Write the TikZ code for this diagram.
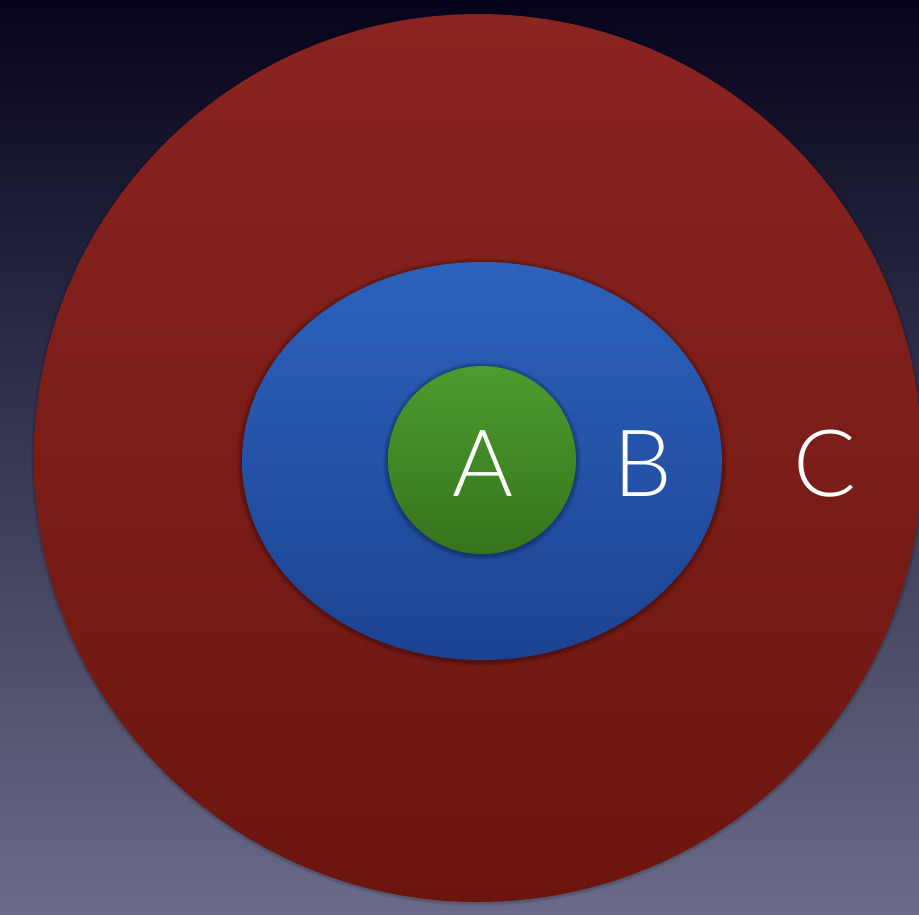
\documentclass[tikz,border=0pt]{standalone}
\usepackage{fontspec}
\newfontfamily\labelfont{Lato}[UprightFont={* Light}]
\definecolor{bgtop}{HTML}{06041C}
\definecolor{bgbot}{HTML}{6A6B89}
\definecolor{redtop}{HTML}{8A2420}
\definecolor{redbot}{HTML}{6C150F}
\definecolor{bluetop}{HTML}{2C62BC}
\definecolor{bluebot}{HTML}{1C4392}
\definecolor{greentop}{HTML}{4C9C2E}
\definecolor{greenbot}{HTML}{36731C}
\tikzset{
  lab/.style={text=white, font=\labelfont\fontsize{93}{93}\selectfont, inner sep=0pt, anchor=base},
  halo/.style={fill=black, opacity=0.06}
}
\begin{document}
\begin{tikzpicture}[x=1pt,y=-1pt]
\useasboundingbox (0,0) rectangle (919,914);
\shade[top color=bgtop, bottom color=bgbot] (0,0) rectangle (919,914);
\begin{scope}
\clip (0,0) rectangle (919,914);
\foreach \d in {1,2,3} {\fill[halo] (478,459) circle ({444+\d});}
\shade[top color=redtop, bottom color=redbot] (478,458) circle (444);
\end{scope}
\node (C) [coordinate] at (478,458) {};
\foreach \d in {1,2,3,4,5} {\fill[halo] (482,462) ellipse ({240+\d} and {199+\d});}
\shade[top color=bluetop, bottom color=bluebot] (482,461) ellipse (240 and 199);
\node (B) [coordinate] at (482,461) {};
\foreach \d in {1,2,3,4,5} {\fill[halo] (482,461) circle ({94+\d});}
\shade[top color=greentop, bottom color=greenbot] (482,460) circle (94);
\node (A) [coordinate] at (482,460) {};
\node[lab] (la) at (483,496) {A};
\node[lab] (lb) at (643,496) {B};
\node[lab] (lc) at (825,496) {C};
\end{tikzpicture}
\end{document}
